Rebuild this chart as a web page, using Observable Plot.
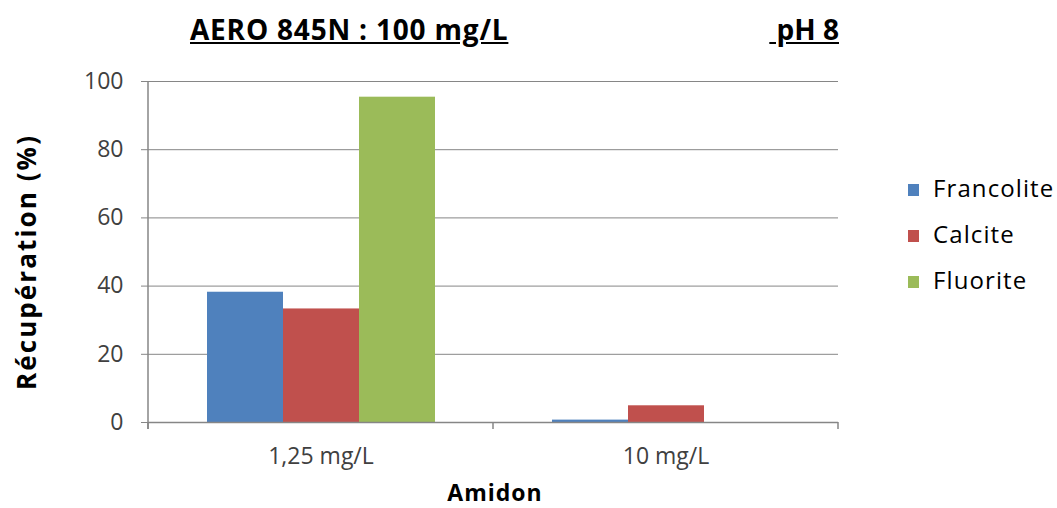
<!DOCTYPE html>
<html><head><meta charset="utf-8">
<script src="https://cdn.jsdelivr.net/npm/d3@7"></script>
<script src="https://cdn.jsdelivr.net/npm/@observablehq/plot@0.6"></script>
<style>
body{margin:0;background:#fff;font-family:"Open Sans",sans-serif;}
#wrap{position:relative;width:1057px;height:508px;overflow:hidden;background:#fff}
#chart{position:absolute;left:0;top:0}
.t{position:absolute;white-space:nowrap;color:#000;line-height:1}
.lg{position:absolute;left:908px;white-space:nowrap;line-height:1;font-size:24px;letter-spacing:1.1px;color:#000}
.lg span.sw{position:absolute;left:0;width:11px;height:12px}
.lg span.tx{position:absolute;left:25px;top:0}
</style></head><body>
<div id="wrap">
  <div id="chart"></div>
  <div class="t" id="title" style="left:190px;top:15px;font-size:28px;font-weight:bold;letter-spacing:0.8px;text-decoration:underline;"></div>
  <div class="t" id="ph" style="right:218px;top:15px;font-size:28px;font-weight:bold;letter-spacing:0px;text-decoration:underline;"></div>
  <div class="t" id="ylab" style="left:26px;top:262px;font-size:26px;font-weight:bold;letter-spacing:2.1px;transform:translate(-50%,-50%) rotate(-90deg);"></div>
  <div class="t" id="xlab" style="left:495px;top:481px;font-size:23px;font-weight:bold;letter-spacing:1px;transform:translateX(-50%);"></div>
  <div id="legend"></div>
</div>
<script>
// ---- data ----
const categories = ["1,25 mg/L", "10 mg/L"];
const series = ["Francolite", "Calcite", "Fluorite"];
const colors = ["#4F81BD", "#C0504D", "#9BBB59"];
const francolite = [38.2, 0.7];
const calcite = [33.3, 4.9];
const fluorite = [95.4, 0];
const yTicks = [0, 20, 40, 60, 80, 100];
const titleText = "AERO 845N : 100 mg/L";
const phText = "\u00a0pH 8";
const yLabel = "Récupération (%)";
const xLabel = "Amidon";

const values = [francolite, calcite, fluorite];
const data = categories.flatMap((c, i) => series.map((s, j) => ({category: c, series: s, value: values[j][i]})));

const gridColor = "#868686";

const chart = Plot.plot({
  width: 1057, height: 508,
  marginTop: 81, marginBottom: 86, marginLeft: 148, marginRight: 219,
  style: {fontFamily: "Open Sans", fontSize: "23px", color: "#404040", background: "transparent", overflow: "visible"},
  fx: {domain: categories, padding: 0, label: null},
  x: {domain: series, paddingInner: 0, paddingOuter: 0.75, axis: null},
  y: {domain: [0, 100], label: null},
  color: {domain: series, range: colors},
  marks: [
    Plot.gridY({ticks: yTicks.filter(d => d > 0), stroke: gridColor, strokeOpacity: 1, strokeWidth: 1}),
    Plot.barY(data, {fx: "category", x: "series", y: "value", fill: "series", inset: 0}),
    Plot.ruleY([0], {stroke: gridColor, strokeWidth: 1.5}),
    Plot.axisY({ticks: yTicks, tickSize: 7, tickPadding: 18, stroke: gridColor, strokeOpacity: 1, fill: "#404040", label: null}),
    Plot.axisFx({anchor: "bottom", tickSize: 0, tickPadding: 25, label: null, fill: "#404040"})
  ]
});
document.getElementById("chart").appendChild(chart);

// axis line and category boundary ticks, from the plot's own scales
const fx = chart.scale("fx"), y = chart.scale("y");
const svg = d3.select(chart);
const g = svg.append("g").attr("stroke", gridColor).attr("stroke-width", 1.5);
const x0 = fx.apply(categories[0]);
g.append("line").attr("x1", x0).attr("x2", x0).attr("y1", y.apply(100)).attr("y2", y.apply(0) + 7);
const bounds = categories.map(c => fx.apply(c)).concat([fx.apply(categories[categories.length - 1]) + fx.bandwidth]);
bounds.forEach(b => g.append("line").attr("x1", b).attr("x2", b).attr("y1", y.apply(0)).attr("y2", y.apply(0) + 7));

document.getElementById("title").textContent = titleText;
document.getElementById("ph").textContent = phText;
document.getElementById("ylab").textContent = yLabel;
document.getElementById("xlab").textContent = xLabel;

const legend = document.getElementById("legend");
series.forEach((s, j) => {
  const row = document.createElement("div");
  row.className = "lg";
  row.style.top = (176 + j * 46) + "px";
  const sw = document.createElement("span");
  sw.className = "sw"; sw.style.background = colors[j]; sw.style.top = "8px";
  const tx = document.createElement("span");
  tx.className = "tx"; tx.textContent = s;
  row.appendChild(sw); row.appendChild(tx);
  legend.appendChild(row);
});
</script>
</body></html>
